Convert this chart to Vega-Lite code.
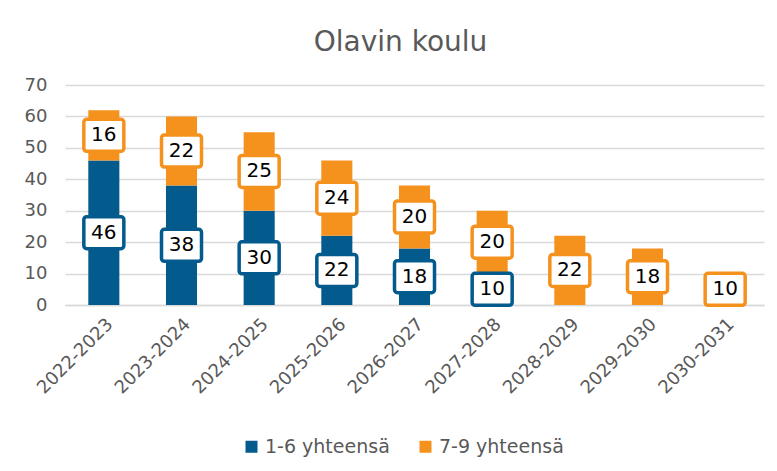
{
  "$schema": "https://vega.github.io/schema/vega-lite/v6.json",
  "width": 699,
  "height": 220,
  "autosize": "none",
  "padding": {"left": 65, "top": 85, "right": 13, "bottom": 166},
  "background": "white",
  "config": {
    "font": "DejaVu Sans",
    "view": {"stroke": null},
    "axis": {"labelFont": "DejaVu Sans", "labelColor": "#595959", "title": null},
    "axisY": {
      "values": [0, 10, 20, 30, 40, 50, 60, 70],
      "labelFontSize": 18,
      "ticks": false,
      "domain": false,
      "gridColor": "#d9d9d9",
      "gridWidth": 1.5,
      "labelPadding": 18
    }
  },
  "title": {
    "text": "Olavin koulu",
    "fontSize": 28,
    "font": "DejaVu Sans",
    "fontWeight": "normal",
    "color": "#595959",
    "anchor": "middle",
    "dx": -14,
    "offset": 19
  },
  "data": {
    "values": [
      {"year": "2022-2023", "series": "1-6 yhteensä", "order": 1, "value": 46},
      {"year": "2022-2023", "series": "7-9 yhteensä", "order": 2, "value": 16},
      {"year": "2023-2024", "series": "1-6 yhteensä", "order": 1, "value": 38},
      {"year": "2023-2024", "series": "7-9 yhteensä", "order": 2, "value": 22},
      {"year": "2024-2025", "series": "1-6 yhteensä", "order": 1, "value": 30},
      {"year": "2024-2025", "series": "7-9 yhteensä", "order": 2, "value": 25},
      {"year": "2025-2026", "series": "1-6 yhteensä", "order": 1, "value": 22},
      {"year": "2025-2026", "series": "7-9 yhteensä", "order": 2, "value": 24},
      {"year": "2026-2027", "series": "1-6 yhteensä", "order": 1, "value": 18},
      {"year": "2026-2027", "series": "7-9 yhteensä", "order": 2, "value": 20},
      {"year": "2027-2028", "series": "1-6 yhteensä", "order": 1, "value": 10},
      {"year": "2027-2028", "series": "7-9 yhteensä", "order": 2, "value": 20},
      {"year": "2028-2029", "series": "7-9 yhteensä", "order": 2, "value": 22},
      {"year": "2029-2030", "series": "7-9 yhteensä", "order": 2, "value": 18},
      {"year": "2030-2031", "series": "7-9 yhteensä", "order": 2, "value": 10}
    ]
  },
  "transform": [
    {"stack": "value", "groupby": ["year"], "sort": [{"field": "order", "order": "ascending"}], "as": ["v0", "v1"]},
    {"calculate": "(datum.v0 + datum.v1) / 2", "as": "mid"}
  ],
  "encoding": {
    "x": {
      "field": "year",
      "type": "nominal",
      "sort": null,
      "scale": {"paddingInner": 0.6, "paddingOuter": 0.3},
      "axis": {
        "labelAngle": -45,
        "labelFontSize": 18,
        "ticks": false,
        "domainColor": "#d9d9d9",
        "domainWidth": 1.5,
        "labelPadding": 10,
        "grid": false
      }
    }
  },
  "layer": [
    {
      "mark": {"type": "bar"},
      "encoding": {
        "y": {
          "field": "v0",
          "type": "quantitative",
          "scale": {"domain": [0, 70], "nice": false}
        },
        "y2": {"field": "v1"},
        "color": {
          "field": "series",
          "type": "nominal",
          "scale": {"domain": ["1-6 yhteensä", "7-9 yhteensä"], "range": ["#035a8c", "#f5921e"]},
          "legend": {
            "title": null,
            "orient": "none",
            "legendX": 177,
            "legendY": 352,
            "direction": "horizontal",
            "symbolType": "square",
            "symbolSize": 144,
            "symbolStrokeWidth": 0,
            "labelFontSize": 19,
            "labelColor": "#595959",
            "labelFont": "DejaVu Sans",
            "labelOffset": 4,
            "columnPadding": 26,
            "padding": 0
          }
        }
      }
    },
    {
      "mark": {
        "type": "point",
        "shape": "M-1.07,-1H1.07A0.18,0.18 0 0 1 1.25,-0.82V0.82A0.18,0.18 0 0 1 1.07,1H-1.07A0.18,0.18 0 0 1 -1.25,0.82V-0.82A0.18,0.18 0 0 1 -1.07,-1Z",
        "size": 1024,
        "filled": true,
        "fill": "white",
        "fillOpacity": 1,
        "opacity": 1,
        "strokeWidth": 3.5
      },
      "encoding": {
        "y": {"field": "mid", "type": "quantitative"},
        "stroke": {
          "field": "series",
          "type": "nominal",
          "scale": {"domain": ["1-6 yhteensä", "7-9 yhteensä"], "range": ["#035a8c", "#f5921e"]},
          "legend": null
        }
      }
    },
    {
      "mark": {"type": "text", "fontSize": 20, "font": "DejaVu Sans", "color": "black", "baseline": "middle", "align": "center"},
      "encoding": {
        "y": {"field": "mid", "type": "quantitative"},
        "text": {"field": "value", "type": "quantitative"}
      }
    }
  ]
}
